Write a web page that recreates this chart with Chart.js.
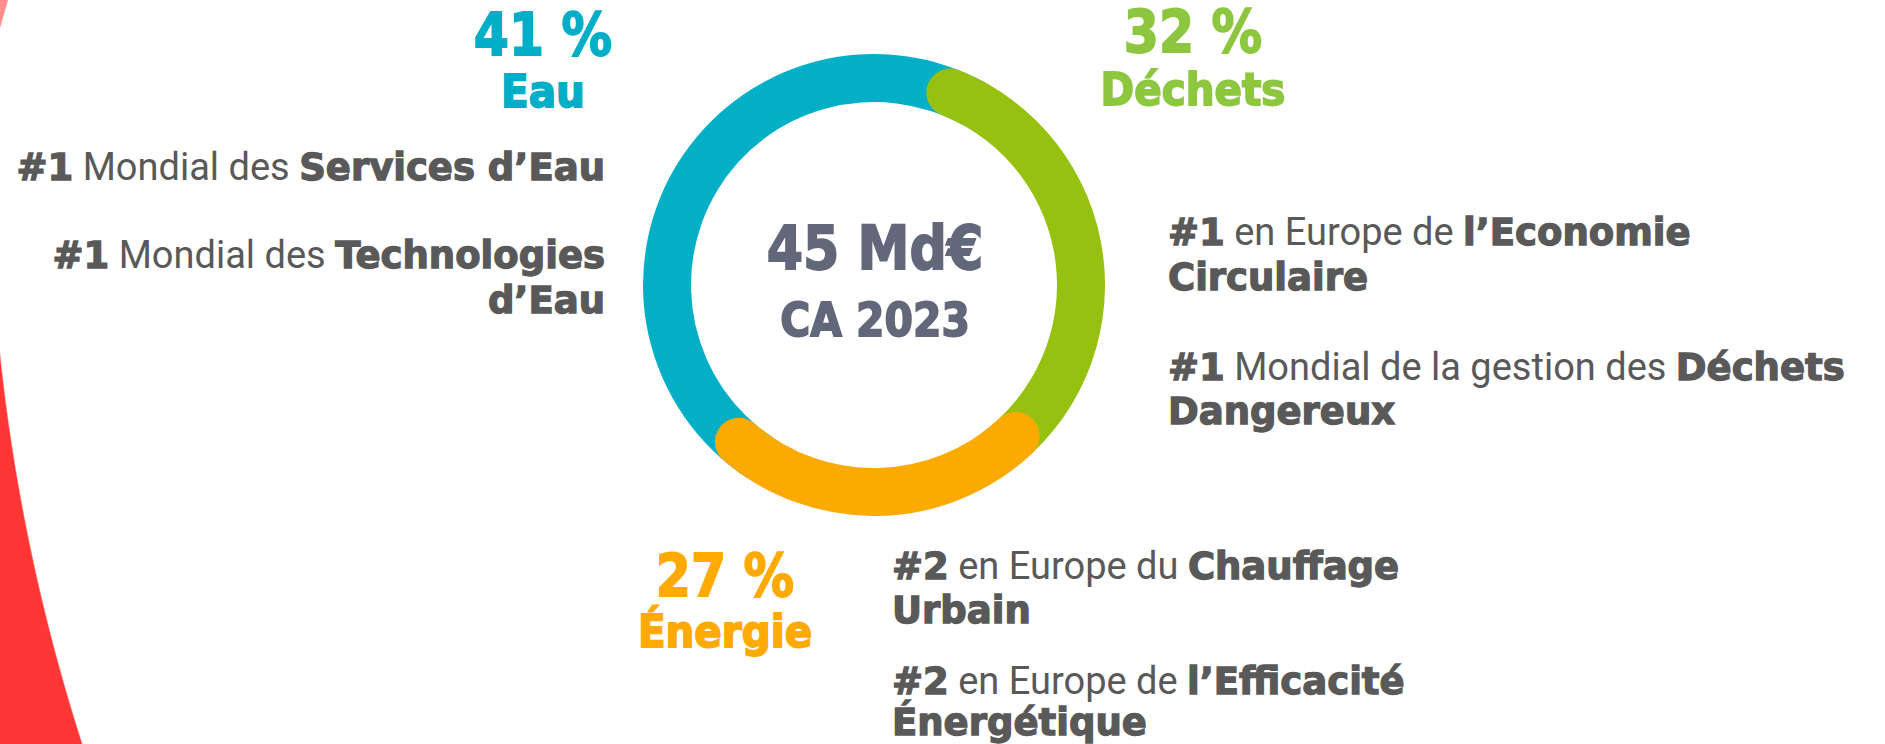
<!DOCTYPE html>
<html lang="fr">
<head>
<meta charset="utf-8">
<title>CA 2023 par activité</title>
<script src="https://cdn.jsdelivr.net/npm/chart.js@4.4.1/dist/chart.umd.min.js"></script>
<style>
html, body { margin: 0; padding: 0; }
body {
    width: 1885px; height: 744px; overflow: hidden; position: relative;
    background: radial-gradient(circle 1944px at 1933px 150px, #ffffff 1943px, #ff3636 1944.5px);
    font-family: Roboto, "Liberation Sans", sans-serif; color: #595959;
}
#tip { position: absolute; left: 0; top: 0; width: 8px; height: 28px; background: #ff8f8f; clip-path: polygon(0 0, 8px 0, 0 28px); }
.ring { position: absolute; left: 643px; top: 54px; width: 462px; height: 462px; }
.t { position: absolute; white-space: nowrap; line-height: 1; font-size: 38px; }
.b { font-family: "DejaVu Sans"; font-weight: bold; font-size: 37px; -webkit-text-stroke: 1.3px currentColor; }
.head { position: absolute; white-space: nowrap; line-height: 1; font-family: "DejaVu Sans"; font-weight: bold; -webkit-text-stroke: 1.8px currentColor; }
</style>
</head>
<body>
<div id="tip"></div>
<div class="ring"><canvas id="ring0"></canvas></div>
<div class="ring"><canvas id="ring1"></canvas></div>
<div class="ring"><canvas id="ring2"></canvas></div>

<!-- Eau -->
<div class="t" style="right:1280px; top:148px;"><span class="b">#1</span> Mondial des <span class="b">Services d’Eau</span></div>
<div class="t" style="right:1280px; top:236px;"><span class="b">#1</span> Mondial des <span class="b">Technologies</span></div>
<div class="t" style="right:1280px; top:281px;"><span class="b">d’Eau</span></div>

<!-- Déchets -->
<div class="t" style="left:1168px; top:213px;"><span class="b">#1</span> en Europe de <span class="b">l’Economie</span></div>
<div class="t" style="left:1168px; top:258px;"><span class="b">Circulaire</span></div>
<div class="t" style="left:1168px; top:348px;"><span class="b">#1</span> Mondial de la gestion des <span class="b">Déchets</span></div>
<div class="t" style="left:1168px; top:392px;"><span class="b">Dangereux</span></div>

<!-- Énergie -->
<div class="t" style="left:892px; top:547px;"><span class="b">#2</span> en Europe du <span class="b">Chauffage</span></div>
<div class="t" style="left:892px; top:591px;"><span class="b">Urbain</span></div>
<div class="t" style="left:892px; top:662px;"><span class="b">#2</span> en Europe de <span class="b">l’Efficacité</span></div>
<div class="t" style="left:892px; top:703px;"><span class="b">Énergétique</span></div>

<script>
const categories = ['Eau', 'Déchets', 'Énergie'];
const shares = [41, 32, 27];              // % du CA
const ringColors = ['#03afc7', '#97c110', '#fdaa00'];
const labelColors = ['#00aec8', '#8dc63f', '#ffaa00'];
const revenue = '45 Md€';
const revenueLabel = 'CA 2023';

// where each share label sits: [centre x, baseline of %, baseline of name]
const labelPos = [[543, 55, 107], [1193, 52, 105], [725, 596, 647]];

// ring layout
const startAngle = 15;     // Déchets starts here, degrees from 12 o'clock
const overlap = 3.9;       // % of circle hidden under the next rounded end
const cap = 24;            // half the ring thickness -> round ends

function addHead(text, cx, baseline, size, sx, color) {
    let d = document.createElement('div');
    d.className = 'head';
    d.textContent = text;
    d.style.left = cx + 'px';
    d.style.top = (baseline - 0.846 * size) + 'px';
    d.style.fontSize = size + 'px';
    d.style.color = color;
    d.style.transform = 'translateX(-50%) scaleX(' + sx + ')';
    document.body.appendChild(d);
}

categories.forEach((name, i) => {
    let p = labelPos[i];
    addHead(shares[i] + ' %', p[0], p[1], 58, 0.87, labelColors[i]);
    addHead(name, p[0], p[2], 44, 0.92, labelColors[i]);
});
addHead(revenue, 875, 269, 60, 0.87, '#62677a');
addHead(revenueLabel, 875, 336, 47, 0.87, '#62677a');

// start of each slice, in % of the circle, Déchets -> Énergie -> Eau
let from = [];
from[1] = startAngle / 3.6;
from[2] = from[1] + shares[1];
from[0] = from[2] + shares[2];

// Eau runs under both neighbours, Déchets only under Énergie
let full = {outerStart: cap, innerStart: cap, outerEnd: cap, innerEnd: cap};
let startOnly = {outerStart: cap, innerStart: cap, outerEnd: 0, innerEnd: 0};
let slices = [
    {start: from[0] - overlap, value: shares[0] + 2 * overlap, radius: 0},
    {start: from[1], value: shares[1] + overlap, radius: startOnly},
    {start: from[2], value: shares[2], radius: full}
];

slices.forEach((s, i) => {
    let ctx = document.getElementById('ring' + i);
    new Chart(ctx, {
        type: 'doughnut',
        data: {
            labels: [categories[i], ''],
            datasets: [{
                data: [s.value, 100 - s.value],
                backgroundColor: [ringColors[i], 'rgba(0,0,0,0)'],
                borderWidth: 0,
                hoverBorderWidth: 0,
                hoverOffset: 0,
                borderRadius: (c) => c.dataIndex === 0 ? s.radius : 0
            }]
        },
        options: {
            responsive: true,
            maintainAspectRatio: false,
            animation: false,
            events: [],
            cutout: 183,
            rotation: s.start * 3.6,
            layout: {padding: 0},
            plugins: {legend: {display: false}, tooltip: {enabled: false}}
        }
    });
});
</script>
</body>
</html>
